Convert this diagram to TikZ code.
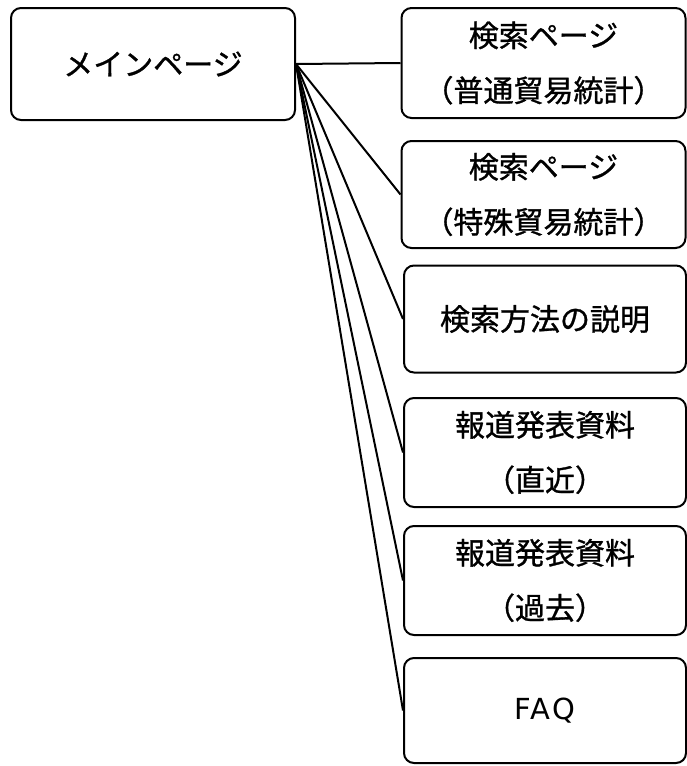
\documentclass[tikz,border=0pt]{standalone}
\usepackage{fontspec}
\setmainfont{Noto Sans CJK JP}[FakeBold=1]
\newfontfamily\latinfont{DejaVu Sans}[LetterSpace=8]
\begin{document}
\begin{tikzpicture}[x=1pt, y=-1pt, line width=2pt,
	pagebox/.style={draw, rounded corners=10pt, align=center, inner sep=0pt,
			font=\fontsize{30}{55}\selectfont},
	sub/.style={pagebox, minimum width=284pt}]
	\useasboundingbox (0, 0) rectangle (687, 766);

	\node[pagebox, minimum width=284pt, minimum height=112pt] (main) at (153, 64) {メインページ};

	\node[sub, minimum height=110pt] (search1) at (543.5, 63) {検索ページ\\（普通貿易統計）};
	\node[sub, minimum height=107pt] (search2) at (543.5, 194.5) {検索ページ\\（特殊貿易統計）};
	\node[sub, minimum height=107pt, minimum width=282pt] (howto) at (545, 319) {検索方法の説明};
	\node[sub, minimum height=109pt, minimum width=282pt] (press1) at (545, 452.5) {報道発表資料\\（直近）};
	\node[sub, minimum height=109pt, minimum width=282pt] (press2) at (545, 580.5) {報道発表資料\\（過去）};
	\node[sub, minimum height=105pt, minimum width=282pt, font=\latinfont\fontsize{29}{55}\selectfont] (faq) at (545, 710.5) {FAQ};

	\foreach \target in {search1, search2, howto, press1, press2, faq}
		\draw (main.east) -- (\target.west);

\end{tikzpicture}
\end{document}
